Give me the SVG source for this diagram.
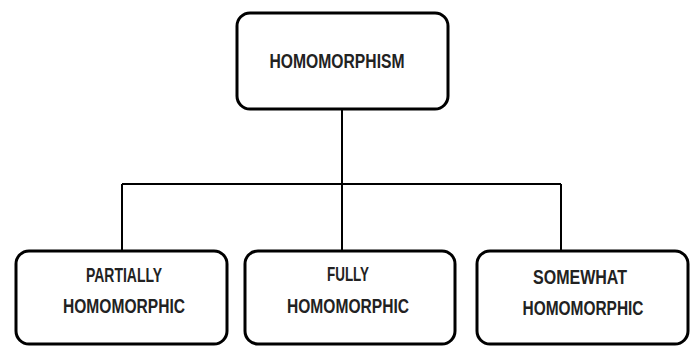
<svg xmlns="http://www.w3.org/2000/svg" width="694" height="347" viewBox="0 0 694 347">
<style>
.box{fill:#fff;stroke:#000;stroke-width:3}
.lbl{font-family:"Liberation Sans",Arial,sans-serif;font-weight:bold;font-size:20px;fill:#222;text-anchor:middle}
.conn{fill:none;stroke:#000;stroke-width:2}
</style>
<rect width="694" height="347" fill="#fff"/>
<g id="connectors">
<path class="conn" d="M342 109V184M122 184H561M122 184V251M342 184V251M561 184V251"/>
</g>
<g id="homomorphism">
<rect class="box" x="237" y="13" width="211" height="96" rx="13"/>
<text class="lbl" x="337" y="68" textLength="135" lengthAdjust="spacingAndGlyphs">HOMOMORPHISM</text>
</g>
<g id="partially">
<rect class="box" x="16" y="251" width="211" height="93" rx="13"/>
<text class="lbl" x="124" y="282" textLength="76" lengthAdjust="spacingAndGlyphs">PARTIALLY</text>
<text class="lbl" x="124" y="313" textLength="122" lengthAdjust="spacingAndGlyphs">HOMOMORPHIC</text>
</g>
<g id="fully">
<rect class="box" x="245" y="251" width="210" height="93" rx="13"/>
<text class="lbl" x="348" y="281" textLength="42" lengthAdjust="spacingAndGlyphs">FULLY</text>
<text class="lbl" x="348" y="313" textLength="122" lengthAdjust="spacingAndGlyphs">HOMOMORPHIC</text>
</g>
<g id="somewhat">
<rect class="box" x="477" y="251" width="211" height="93" rx="13"/>
<text class="lbl" x="580" y="284" textLength="94" lengthAdjust="spacingAndGlyphs">SOMEWHAT</text>
<text class="lbl" x="583" y="315" textLength="121" lengthAdjust="spacingAndGlyphs">HOMOMORPHIC</text>
</g>
</svg>
